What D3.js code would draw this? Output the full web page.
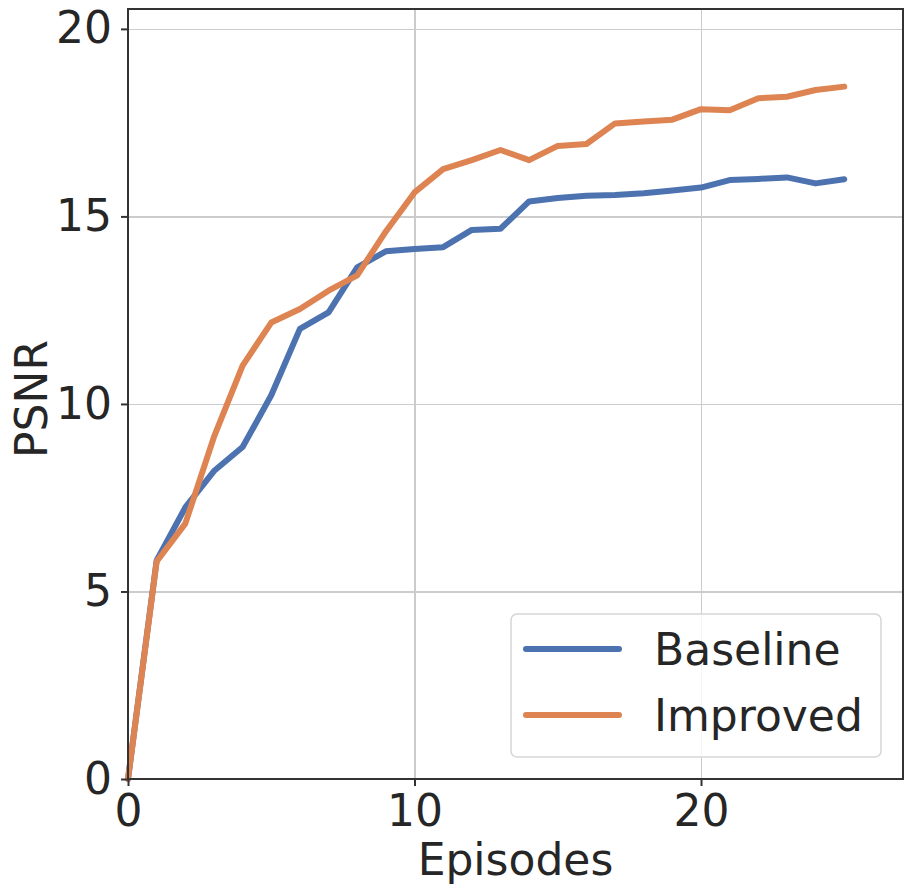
<html>
<script src="https://d3js.org/d3.v7.min.js"></script>
<style>
    body { margin: 0; background: #fff; }
    text { font-family: "DejaVu Sans", sans-serif; fill: #262626; }
    .grid line { stroke: #cccccc; stroke-width: 1.5; shape-rendering: crispEdges; }
    .grid path { stroke-width: 0; }
    .axis path { display: none; }
    .axis line { stroke: #333333; stroke-width: 2; }
    .axis text { font-size: 44px; }
</style>
<body>
<svg id="chart" width=913 height=894></svg>
<script>
// data
var episodes = d3.range(0, 26);
var baseline = [0, 5.83, 7.24, 8.21, 8.85, 10.23, 12.0, 12.44, 13.64, 14.07,
                14.13, 14.18, 14.64, 14.67, 15.4, 15.49, 15.55, 15.57, 15.62, 15.69,
                15.77, 15.97, 16.0, 16.04, 15.88, 15.99];
var improved = [0, 5.8, 6.81, 9.12, 11.02, 12.17, 12.53, 13.02, 13.43, 14.6,
                15.64, 16.26, 16.5, 16.77, 16.5, 16.88, 16.93, 17.48, 17.53, 17.58,
                17.86, 17.83, 18.15, 18.19, 18.37, 18.46];
var seriesNames = ["Baseline", "Improved"];
var seriesColors = ["#4c72b0", "#dd8452"];
var xTicks = [0, 10, 20];
var yTicks = [0, 5, 10, 15, 20];

var margin = {top: 9, right: 10, bottom: 115, left: 128},
    width = 913 - margin.left - margin.right,
    height = 894 - margin.top - margin.bottom;

var svg = d3.select("#chart")
    .append("g")
    .attr("transform", "translate(" + margin.left + "," + margin.top + ")");

var x = d3.scaleLinear().domain([0, 27.05]).range([0, width]);
var y = d3.scaleLinear().domain([0, 20.53]).range([height, 0]);

// gridlines
svg.append("g")
    .attr("class", "grid")
    .attr("transform", "translate(0," + height + ")")
    .call(d3.axisBottom(x).tickValues(xTicks).tickSize(-height).tickFormat(""));

svg.append("g")
    .attr("class", "grid")
    .call(d3.axisLeft(y).tickValues(yTicks).tickSize(-width).tickFormat(""));

// lines
var line = d3.line()
    .x(function(d, i) { return x(episodes[i]); })
    .y(function(d) { return y(d); });

[baseline, improved].forEach(function(vals, k) {
    svg.append("path")
        .datum(vals)
        .attr("fill", "none")
        .attr("stroke", seriesColors[k])
        .attr("stroke-width", 6)
        .attr("stroke-linejoin", "round")
        .attr("stroke-linecap", "round")
        .attr("d", line);
});

// frame
svg.append("rect")
    .attr("width", width)
    .attr("height", height)
    .attr("fill", "none")
    .attr("stroke", "#333333")
    .attr("stroke-width", 2);

// axes
svg.append("g")
    .attr("class", "axis")
    .attr("transform", "translate(0," + height + ")")
    .call(d3.axisBottom(x).tickValues(xTicks).tickSize(7).tickPadding(9).tickFormat(d3.format("d")));

svg.append("g")
    .attr("class", "axis")
    .call(d3.axisLeft(y).tickValues(yTicks).tickSize(7).tickPadding(9).tickFormat(d3.format("d")));

// axis labels
svg.append("text")
    .attr("x", width / 2)
    .attr("y", 875 - margin.top)
    .style("text-anchor", "middle")
    .style("font-size", "44px")
    .text("Episodes");

svg.append("text")
    .attr("transform", "translate(" + (47 - margin.left) + "," + (399 - margin.top) + ") rotate(-90)")
    .style("text-anchor", "middle")
    .style("font-size", "44px")
    .text("PSNR");

// legend
var legend = svg.append("g")
    .attr("transform", "translate(" + (511 - margin.left) + "," + (614 - margin.top) + ")");

legend.append("rect")
    .attr("width", 370)
    .attr("height", 143)
    .attr("rx", 6)
    .attr("fill", "white")
    .attr("fill-opacity", 0.8)
    .attr("stroke", "#d6d6d6")
    .attr("stroke-width", 1.5);

seriesNames.forEach(function(name, k) {
    var ly = 35 + k * 66;
    legend.append("line")
        .attr("x1", 15).attr("x2", 108)
        .attr("y1", ly).attr("y2", ly)
        .attr("stroke", seriesColors[k])
        .attr("stroke-width", 6)
        .attr("stroke-linecap", "round");
    legend.append("text")
        .attr("x", 143)
        .attr("y", ly + 16)
        .style("font-size", "44px")
        .text(name);
});
</script>
</body>
</html>
